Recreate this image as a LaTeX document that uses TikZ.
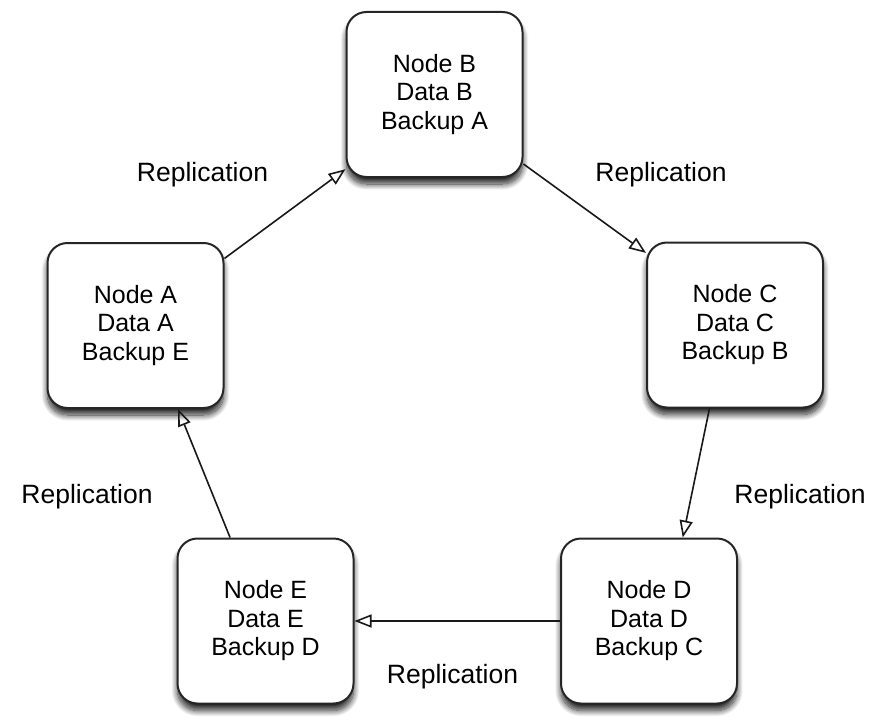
\documentclass[tikz,border=0pt]{standalone}
\usepackage{fontspec}
\setmainfont{Liberation Sans}
\usetikzlibrary{arrows.meta,shadows.blur}
\begin{document}
\begin{tikzpicture}[x=1pt,y=-1pt,
  server/.style={draw=black!85, line width=2pt, fill=white,
    rounded corners=20pt, minimum width=176pt, minimum height=165pt,
    align=center, font=\fontsize{25}{28.5}\selectfont,
    blur shadow={shadow xshift=0pt, shadow yshift=-7pt,
      shadow blur radius=6pt, shadow blur steps=12, shadow opacity=85}},
  repl/.style={draw=black!90, line width=1.6pt,
    -{Triangle[open, length=17pt, width=13pt, line width=1.6pt]}},
  lbl/.style={anchor=base, inner sep=0pt, font=\fontsize{26.5}{30}\selectfont}]
  \useasboundingbox (0,0) rectangle (893,722);

  % the five servers of the ring
  \node[server] (B) at (434.5,94.5)  {Node B\\Data B\\Backup A};
  \node[server] (A) at (135.5,325.5) {Node A\\Data A\\Backup E};
  \node[server] (C) at (735,325)     {Node C\\Data C\\Backup B};
  \node[server] (D) at (649,621)     {Node D\\Data D\\Backup C};
  \node[server] (E) at (265.5,621)   {Node E\\Data E\\Backup D};

  % replication links, each node copying to the next
  \draw[repl] (A.37)   -- (B.220);
  \draw[repl] (B.-38)  -- (C.141);
  \draw[repl] (C.253)  -- (D.68);
  \draw[repl] (D.west) -- (E.east);
  \draw[repl] (E.113)  -- (A.-63);

  % link labels
  \node[lbl] (l1) at (202.5,182) {Replication};
  \node[lbl] (l2) at (661,182)   {Replication};
  \node[lbl] (l3) at (800,503)   {Replication};
  \node[lbl] (l4) at (452.5,683) {Replication};
  \node[lbl] (l5) at (87,503)    {Replication};
\end{tikzpicture}
\end{document}
